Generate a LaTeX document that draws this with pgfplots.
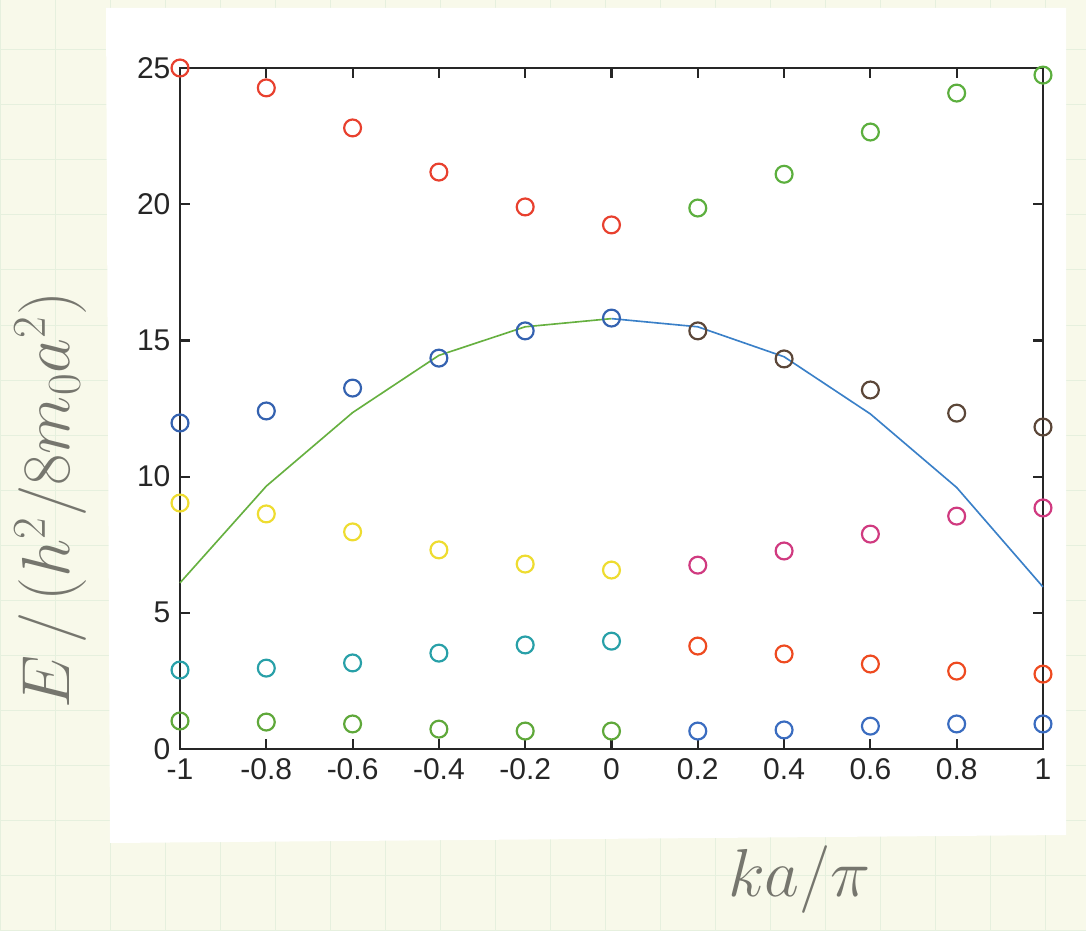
\documentclass[border=0pt]{standalone}
\usepackage{pgfplots}
\pgfplotsset{compat=1.18}
\usepackage{fontspec}
\setmainfont{Liberation Sans}
\definecolor{papercream}{HTML}{F8F9EA}
\definecolor{gridgreen}{HTML}{E6F0DE}
\definecolor{cRed}{HTML}{E8402E}
\definecolor{cGreenTop}{HTML}{5CAF3E}
\definecolor{cBlueMid}{HTML}{3462B0}
\definecolor{cBrown}{HTML}{5B4638}
\definecolor{cYellow}{HTML}{EEDC30}
\definecolor{cMagenta}{HTML}{D03A80}
\definecolor{cCyan}{HTML}{28A0A8}
\definecolor{cOrange}{HTML}{EE4A20}
\definecolor{cGreenBot}{HTML}{5FA83A}
\definecolor{cBlueBot}{HTML}{3A6CC0}
\definecolor{lGreen}{HTML}{66B040}
\definecolor{lBlue}{HTML}{3A80C8}
\definecolor{pencil}{HTML}{76766E}
\begin{document}
\begin{tikzpicture}
\useasboundingbox (0,0) rectangle (14cm,11.989cm);
\begin{scope}[x=0.012891cm,y=0.012891cm]
\fill[papercream] (0,0) rectangle (1086,930);
\foreach \gx in {0,55,...,1086} {\draw[gridgreen,line width=0.3pt] (\gx,0) -- (\gx,930);}
\foreach \gy in {0,55,...,930} {\draw[gridgreen,line width=0.3pt] (0,\gy) -- (1086,\gy);}
\fill[white] (110,87) -- (1066,95) -- (1066,922) -- (106,922) -- cycle;
\end{scope}
\begin{axis}[
  at={(2.3204cm,2.3333cm)}, anchor=south west,
  scale only axis, width=11.125cm, height=8.779cm,
  xmin=-1, xmax=1, ymin=0, ymax=25,
  xtick={-1,-0.8,-0.6,-0.4,-0.2,0,0.2,0.4,0.6,0.8,1},
  xticklabels={-1,-0.8,-0.6,-0.4,-0.2,0,0.2,0.4,0.6,0.8,1},
  ytick={0,5,10,15,20,25},
  yticklabels={0,5,10,15,20,25},
  tick align=inside, major tick length=0.13cm,
  xtick pos=both, ytick pos=both,
  ticklabel style={font=\fontsize{11}{13}\selectfont, color=black!85},
  axis line style={black!85, line width=0.8pt},
  every tick/.style={black!85, line width=0.8pt},
  clip=false,
  xlabel={$ka/\pi$},
  xlabel style={at={(axis description cs:0.718,-0.192)}, anchor=center, font=\fontsize{24}{28}\selectfont, color=pencil},
  ylabel={$E\,/\,\bigl(h^2/8m_0a^2\bigr)$},
  ylabel style={at={(axis description cs:-0.150,0.366)}, anchor=center, font=\fontsize{25}{30}\selectfont, color=pencil},
  every axis plot/.append style={line width=0.7pt},
]
% band lines
\addplot[lGreen, no marks, line width=0.6pt] coordinates {(-1,6.1) (-0.8,9.65) (-0.6,12.35) (-0.4,14.45) (-0.2,15.5) (0,15.8)};
\addplot[lBlue, no marks, line width=0.6pt] coordinates {(0,15.8) (0.2,15.5) (0.4,14.4) (0.6,12.3) (0.8,9.6) (1,5.95)};
% markers
\pgfplotsset{mk/.style={only marks, mark=o, mark size=3.1pt, mark options={line width=0.8pt}}}
\addplot[mk, cRed] coordinates {(-1,25.0) (-0.8,24.27) (-0.6,22.8) (-0.4,21.18) (-0.2,19.9) (0,19.24)};
\addplot[mk, cGreenTop] coordinates {(0.2,19.86) (0.4,21.1) (0.6,22.65) (0.8,24.08) (1,24.74)};
\addplot[mk, cBlueMid] coordinates {(-1,11.97) (-0.8,12.41) (-0.6,13.25) (-0.4,14.35) (-0.2,15.35) (0,15.82)};
\addplot[mk, cBrown] coordinates {(0.2,15.35) (0.4,14.32) (0.6,13.18) (0.8,12.33) (1,11.82)};
\addplot[mk, cYellow] coordinates {(-1,9.03) (-0.8,8.63) (-0.6,7.97) (-0.4,7.31) (-0.2,6.79) (0,6.57)};
\addplot[mk, cMagenta] coordinates {(0.2,6.75) (0.4,7.27) (0.6,7.89) (0.8,8.55) (1,8.85)};
\addplot[mk, cCyan] coordinates {(-1,2.9) (-0.8,2.97) (-0.6,3.16) (-0.4,3.52) (-0.2,3.82) (0,3.96)};
\addplot[mk, cOrange] coordinates {(0.2,3.78) (0.4,3.49) (0.6,3.12) (0.8,2.86) (1,2.75)};
\addplot[mk, cGreenBot] coordinates {(-1,1.03) (-0.8,0.99) (-0.6,0.92) (-0.4,0.73) (-0.2,0.66) (0,0.66)};
\addplot[mk, cBlueBot] coordinates {(0.2,0.66) (0.4,0.70) (0.6,0.84) (0.8,0.92) (1,0.92)};
\end{axis}
\end{tikzpicture}
\end{document}
